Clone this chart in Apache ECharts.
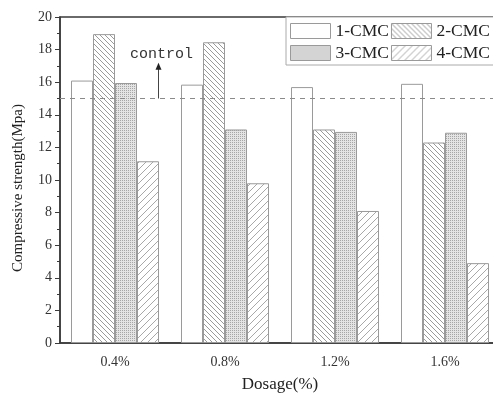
<!DOCTYPE html>
<html>
<head>
<meta charset="utf-8">
<script src="https://cdn.jsdelivr.net/npm/echarts@6/dist/echarts.min.js"></script>
<style>
  html, body { margin: 0; padding: 0; background: #fff; }
  #chart { width: 493px; height: 394px; }
</style>
</head>
<body>
<div id="chart"></div>
<script>
// Compressive strength by CMC dosage
const categories = ['0.4%', '0.8%', '1.2%', '1.6%'];
const seriesNames = ['1-CMC', '2-CMC', '3-CMC', '4-CMC'];
const cmc1 = [16.1, 15.85, 15.7, 15.9];
const cmc2 = [18.95, 18.45, 13.1, 12.3];
const cmc3 = [15.95, 13.1, 12.95, 12.9];
const cmc4 = [11.15, 9.8, 8.1, 4.9];
const controlValue = 15;
const controlArrowTop = 17.2;
const yTicks = { min: 0, max: 20, interval: 2 };

const serif = '"Liberation Serif", "Times New Roman", serif';

// Hatch fills drawn onto small tiles
function tile(size, draw) {
  const c = document.createElement('canvas');
  c.width = size; c.height = size;
  const ctx = c.getContext('2d');
  ctx.fillStyle = '#fff';
  ctx.fillRect(0, 0, size, size);
  draw(ctx, size);
  return { image: c, repeat: 'repeat' };
}
function diagonal(size, back, color) {
  return tile(size, function (ctx, s) {
    ctx.strokeStyle = color;
    ctx.lineWidth = 1;
    ctx.beginPath();
    for (let k = -1; k <= 1; k++) {
      if (back) { ctx.moveTo(k * s, 0); ctx.lineTo(k * s + s, s); }
      else { ctx.moveTo(k * s, s); ctx.lineTo(k * s + s, 0); }
    }
    ctx.stroke();
  });
}
const fillBack = diagonal(5, true, '#9a9a9a');
const fillFwd = diagonal(7, false, '#a8a8a8');
const fillDots = tile(2, function (ctx) {
  ctx.fillStyle = '#e4e4e4';
  ctx.fillRect(0, 0, 2, 2);
  ctx.fillStyle = '#a6a6a6';
  ctx.fillRect(0, 0, 1, 1);
});

const fills = ['#ffffff', fillBack, fillDots, fillFwd];
const values = [cmc1, cmc2, cmc3, cmc4];

const series = seriesNames.map(function (name, i) {
  const s = {
    name: name,
    type: 'bar',
    data: values[i],
    barGap: '0%',
    barCategoryGap: '20%',
    itemStyle: { color: fills[i], borderColor: '#9a9a9a', borderWidth: 1 },
    emphasis: { disabled: true }
  };
  if (i === 0) {
    s.markLine = {
      silent: true,
      symbol: 'none',
      label: { show: false },
      lineStyle: { type: [5, 5], color: '#8a8a8a', width: 1.2 },
      data: [{ yAxis: controlValue }]
    };
  }
  return s;
});

const chart = echarts.init(document.getElementById('chart'), null, { renderer: 'canvas' });

chart.setOption({
  animation: false,
  backgroundColor: '#fff',
  grid: {
    left: 60, top: 17, width: 440, bottom: 51,
    containLabel: false,
    outerBoundsMode: 'none',
    show: true, borderColor: '#3a3a3a', borderWidth: 1.5, backgroundColor: 'transparent'
  },
  legend: {
    data: seriesNames,
    left: 286, top: 17, width: 206,
    orient: 'horizontal',
    icon: 'rect',
    itemWidth: 40, itemHeight: 15, itemGap: 2,
    padding: [4, 4, 2, 4],
    borderColor: '#aaa', borderWidth: 1,
    backgroundColor: '#fff',
    itemStyle: { borderColor: '#9a9a9a', borderWidth: 1 },
    textStyle: { fontFamily: serif, fontSize: 17.5, color: '#222', lineHeight: 20 },
    selectedMode: false
  },
  xAxis: [{
    type: 'category',
    data: categories,
    name: 'Dosage(%)',
    nameLocation: 'middle',
    nameGap: 33,
    nameTextStyle: { fontFamily: serif, fontSize: 17, color: '#222' },
    axisLine: { lineStyle: { color: '#3a3a3a', width: 1.5 } },
    axisTick: { alignWithLabel: true, length: 7, lineStyle: { color: '#3a3a3a' } },
    axisLabel: { fontFamily: serif, fontSize: 14, color: '#333', margin: 12 }
  }, {
    type: 'category',
    data: categories,
    position: 'bottom',
    axisLine: { show: false },
    axisTick: { length: 4, lineStyle: { color: '#3a3a3a' } },
    axisLabel: { show: false }
  }],
  yAxis: {
    type: 'value',
    min: yTicks.min, max: yTicks.max, interval: yTicks.interval,
    name: 'Compressive strength(Mpa)',
    nameLocation: 'middle',
    nameGap: 34,
    nameTextStyle: { fontFamily: serif, fontSize: 15, color: '#222', padding: [0, 16, 0, 0] },
    axisLine: { show: true, lineStyle: { color: '#3a3a3a', width: 1.5 } },
    axisTick: { show: true, length: 5, lineStyle: { color: '#3a3a3a' } },
    minorTick: { show: true, splitNumber: 2, length: 3, lineStyle: { color: '#3a3a3a' } },
    splitLine: { show: false },
    axisLabel: { fontFamily: serif, fontSize: 14, color: '#333', margin: 8 }
  },
  series: series
});

// Arrow and label pointing at the control line
const p0 = chart.convertToPixel({ xAxisIndex: 0 }, 0);
const p1 = chart.convertToPixel({ xAxisIndex: 0 }, 1);
const ax = Math.round(p0 + 0.39 * (p1 - p0)) + 0.5;
const yLine = chart.convertToPixel({ yAxisIndex: 0 }, controlValue);
const yTop = chart.convertToPixel({ yAxisIndex: 0 }, controlArrowTop);

chart.setOption({
  graphic: [
    { type: 'line', silent: true, shape: { x1: ax, y1: yLine, x2: ax, y2: yTop + 6 }, style: { stroke: '#444', lineWidth: 1 } },
    { type: 'polygon', silent: true, shape: { points: [[ax, yTop], [ax - 3, yTop + 7], [ax + 3, yTop + 7]] }, style: { fill: '#222' } },
    { type: 'text', silent: true, x: ax + 3, y: yTop - 9, style: { text: 'control', fontFamily: '"Liberation Mono", "DejaVu Sans Mono", monospace', fontSize: 15, fill: '#333', align: 'center', verticalAlign: 'middle' } }
  ]
});
</script>
</body>
</html>
